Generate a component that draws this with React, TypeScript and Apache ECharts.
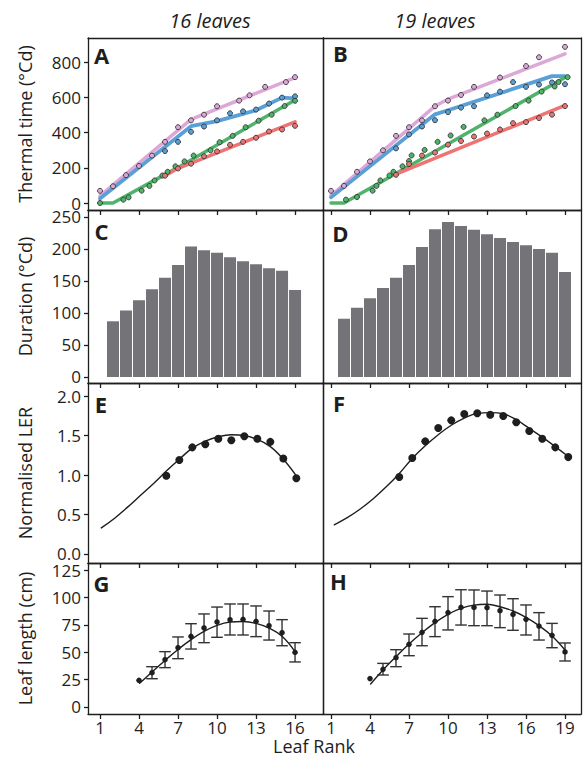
import React, { useEffect, useRef } from "react";
import * as echarts from "echarts";

// ---------------- Data ----------------
// Panel A: thermal time, 16 leaves (lines = fitted, points = observed)
const aPinkLineX = [1, 8, 16];
const aPinkLineY = [40, 474, 712];
const aBlueLineX = [1, 8, 10, 13, 15, 16];
const aBlueLineY = [25, 436, 465, 526, 598, 594];
const aGreenLineX = [1, 2, 7, 16];
const aGreenLineY = [0, 0, 202, 585];
const aRedLineX = [6, 7, 16];
const aRedLineY = [155, 197, 461];
const aPinkX = [1, 2, 3, 4, 5, 6, 7, 8, 9, 10, 11.7, 12.5, 13.7, 15.3, 16];
const aPinkY = [69, 95, 158, 210, 269, 347, 430, 469, 501, 549, 581, 611, 659, 686, 714];
const aBlueX = [6, 7, 8, 9, 10, 11, 12, 13, 14, 15, 16];
const aBlueY = [295, 347, 404, 434, 469, 509, 520, 530, 564, 598, 605];
const aGreenX = [1, 2.8, 3.2, 4.2, 4.8, 5.2, 5.8, 6.2, 6.8, 7.5, 8.2, 9.5, 10.2, 11.2, 12.2, 13.2, 14.2, 15.2, 16];
const aGreenY = [0, 19, 32, 70, 97, 128, 156, 177, 208, 236, 269, 299, 345, 381, 430, 467, 501, 550, 580];
const aRedX = [6, 7, 8, 9, 10, 11, 12, 13, 14, 15, 16];
const aRedY = [155, 196, 223, 265, 293, 330, 347, 370, 406, 417, 438];

// Panel B: thermal time, 19 leaves
const bPinkLineX = [1, 9, 10, 19];
const bPinkLineY = [42, 550, 589, 846];
const bBlueLineX = [1, 9, 10, 18, 19];
const bBlueLineY = [32, 503, 526, 720, 720];
const bGreenLineX = [1, 2, 19];
const bGreenLineY = [0, 0, 712];
const bRedLineX = [6, 19];
const bRedLineY = [164, 554];
const bPinkX = [1, 2, 3, 4, 5, 6, 7, 8, 9, 10, 11, 12, 14, 16, 17, 19];
const bPinkY = [69, 97, 177, 236, 299, 381, 430, 469, 549, 581, 613, 659, 712, 777, 827, 886];
const bBlueX = [6, 7, 8, 9, 10, 11, 12, 13, 14, 15, 16, 17, 18, 19];
const bBlueY = [310, 389, 434, 470, 516, 541, 549, 611, 632, 686, 659, 672, 684, 674];
const bGreenX = [2.15, 3, 4.2, 4.5, 4.8, 5.5, 5.8, 6.5, 7, 7.2, 8.2, 9.2, 10.2, 11.2, 12.8, 13.8, 15.2, 16.2, 17.2, 18.2, 18.5, 19.2];
const bGreenY = [19, 34, 70, 97, 128, 156, 177, 208, 238, 270, 301, 347, 383, 432, 469, 501, 550, 581, 632, 661, 686, 714];
const bRedX = [6, 7, 8, 9, 10, 11, 12, 13, 14, 15, 16, 17, 18, 19];
const bRedY = [160, 221, 269, 286, 331, 352, 377, 394, 417, 453, 459, 482, 501, 550];

// Panels C, D: duration (°Cd)
const cRanks = [2, 3, 4, 5, 6, 7, 8, 9, 10, 11, 12, 13, 14, 15, 16];
const cDuration = [87, 104, 120, 137, 155, 175, 204, 198, 194, 187, 181, 176, 170, 166, 136];
const dRanks = [2, 3, 4, 5, 6, 7, 8, 9, 10, 11, 12, 13, 14, 15, 16, 17, 18, 19];
const dDuration = [91, 108, 123, 139, 155, 175, 203, 231, 242, 236, 230, 223, 217, 211, 206, 200, 194, 164];

// Panels E, F: normalised LER
const eRanks = [6, 7, 8, 9, 10, 11, 12, 13, 14, 15, 16];
const eLER = [0.99, 1.19, 1.35, 1.39, 1.46, 1.44, 1.49, 1.46, 1.42, 1.21, 0.96];
const eFitX = [1, 2, 3, 4, 5, 6, 7, 8, 9, 10, 11, 12, 13, 14, 15, 16];
const eFitY = [0.33, 0.45, 0.59, 0.74, 0.89, 1.05, 1.2, 1.34, 1.43, 1.485, 1.51, 1.5, 1.45, 1.36, 1.2, 0.99];
const fRanks = [6, 7, 8, 9, 10, 11, 12, 13, 14, 15, 16, 17, 18, 19];
const fLER = [0.975, 1.215, 1.426, 1.595, 1.692, 1.772, 1.781, 1.764, 1.747, 1.667, 1.557, 1.46, 1.35, 1.227];
const fFitX = [1, 2, 3, 4, 5, 6, 7, 8, 9, 10, 11, 12, 13, 14, 15, 16, 17, 18, 19];
const fFitY = [0.37, 0.46, 0.57, 0.7, 0.85, 1.02, 1.21, 1.37, 1.51, 1.63, 1.72, 1.78, 1.79, 1.775, 1.7, 1.59, 1.48, 1.36, 1.235];

// Panels G, H: leaf length (cm), mean with error bars
const gRanks = [4, 5, 6, 7, 8, 9, 10, 11, 12, 13, 14, 15, 16];
const gLength = [24.3, 31.3, 43.2, 54.1, 64.5, 72.1, 77.6, 79.7, 80, 78.2, 74.2, 67.8, 49.9];
const gErrRanks = [5, 6, 7, 8, 9, 10, 11, 12, 13, 14, 15, 16];
const gErrLow = [25.8, 35.9, 44.1, 52.9, 58.7, 63.6, 65.7, 65.7, 64.2, 61.1, 55.9, 41.1];
const gErrHigh = [36.8, 50.5, 63.9, 76, 84.9, 91.2, 94, 94, 92.2, 87.6, 79.7, 58.7];
const gFitX = [4.05, 5, 6, 7, 8, 9, 10, 11, 12, 13, 14, 15, 16];
const gFitY = [21.6, 32, 42.5, 52.5, 61.5, 69, 74.5, 77.5, 78, 76.3, 72, 64.5, 50.5];
const hRanks = [4, 5, 6, 7, 8, 9, 10, 11, 12, 13, 14, 15, 16, 17, 18, 19];
const hLength = [25.9, 34.4, 45, 57.2, 68.1, 78.2, 86.1, 90.9, 90.9, 90.6, 87.9, 84.5, 80, 73.9, 65.4, 50.2];
const hErrRanks = [5, 6, 7, 8, 9, 10, 11, 12, 13, 14, 15, 16, 17, 18, 19];
const hErrLow = [29.2, 36.8, 46.8, 55.9, 64.2, 70.3, 74.8, 74.2, 74.2, 72.4, 70, 65.7, 61.1, 54.1, 42];
const hErrHigh = [39.8, 52.3, 66.6, 80.9, 91.5, 100.7, 107, 106.8, 105.8, 102.2, 98.8, 93.1, 86.1, 76.3, 58.4];
const hFitX = [4.05, 5, 6, 7, 8, 9, 10, 11, 12, 13, 14, 15, 16, 17, 18, 19];
const hFitY = [21, 33.8, 45.9, 57.5, 67.8, 77, 84.6, 90, 93, 93.7, 91.5, 87.6, 81.8, 74.2, 64.8, 52];

// Tick labels
const xTicks16 = [1, 4, 7, 10, 13, 16];
const xTicks19 = [1, 4, 7, 10, 13, 16, 19];
const yTicksTT = [0, 200, 400, 600, 800];
const yTicksDur = [0, 50, 100, 150, 200, 250];
const yTicksLER = [0, 0.5, 1, 1.5, 2];
const yTicksLen = [0, 25, 50, 75, 100, 125];
const columnTitles = ["16 leaves", "19 leaves"];
const rowTitles = ["Thermal time (°Cd)", "Duration (°Cd)", "Normalised LER", "Leaf length (cm)"];
const panelLetters = ["A", "B", "C", "D", "E", "F", "G", "H"];
const xAxisTitle = "Leaf Rank";

// ---------------- Layout & style ----------------
const FONT = "'Open Sans', 'Noto Sans', sans-serif";
const INK = "#1e1e1e";
const PINK = "#dca8d8";
const BLUE = "#5a9fd5";
const GREEN = "#50b36c";
const RED = "#ee7474";
const BAR = "#737378";

const COLS = [
  { l: 88, r: 323, min: 0.077, max: 18.15, ticks: xTicks16, cx: 210 },
  { l: 323, r: 581, min: 0.385, max: 20.23, ticks: xTicks19, cx: 435 },
];
const ROWS = [
  { t: 38, b: 210, min: -39.7, max: 936.2, ticks: yTicksTT, fmt: (v: number) => String(v) },
  { t: 210, b: 383, min: -9.4, max: 260.9, ticks: yTicksDur, fmt: (v: number) => String(v) },
  { t: 383, b: 563, min: -0.114, max: 2.165, ticks: yTicksLER, fmt: (v: number) => v.toFixed(1) },
  { t: 563, b: 714, min: -6.39, max: 131.4, ticks: yTicksLen, fmt: (v: number) => String(v) },
];
const PANELS = [
  { col: 0, row: 0, lx: 101.5, ly: 55, shift: 0 },
  { col: 1, row: 0, lx: 340.5, ly: 53, shift: 0 },
  { col: 0, row: 1, lx: 101.5, ly: 231, shift: 0 },
  { col: 1, row: 1, lx: 340.5, ly: 233, shift: 0 },
  { col: 0, row: 2, lx: 101, ly: 404, shift: 0.1 },
  { col: 1, row: 2, lx: 339, ly: 403, shift: 0.25 },
  { col: 0, row: 3, lx: 101.5, ly: 583, shift: 0 },
  { col: 1, row: 3, lx: 338.5, ly: 581, shift: 0 },
];

const zip = (xs: number[], ys: number[]) => xs.map((x, k) => [x, ys[k]]);

function buildOption() {
  const grid: any[] = [];
  const xAxis: any[] = [];
  const yAxis: any[] = [];
  const series: any[] = [];
  const graphic: any[] = [];
  const axisLineStyle = { color: INK, width: 1.3 };
  const labelStyle = { fontFamily: FONT, fontSize: 17, color: INK, lineHeight: 13 };

  PANELS.forEach((p, i) => {
    const c = COLS[p.col];
    const r = ROWS[p.row];
    grid.push({ left: c.l, top: r.t, width: c.r - c.l, height: r.b - r.t, containLabel: false });
    const bottomRow = p.row === 3;
    xAxis.push({ type: "value", gridIndex: i, min: c.min - p.shift, max: c.max - p.shift, show: false });
    xAxis.push({
      type: "value", gridIndex: i, position: "bottom", min: c.min, max: c.max,
      axisLine: { show: true, onZero: false, lineStyle: axisLineStyle },
      axisTick: { show: bottomRow, length: 5, lineStyle: axisLineStyle, customValues: c.ticks },
      axisLabel: { show: bottomRow, customValues: c.ticks, margin: 7, ...labelStyle },
      splitLine: { show: false },
    });
    xAxis.push({
      type: "value", gridIndex: i, position: "top", min: c.min, max: c.max,
      axisLine: { show: true, onZero: false, lineStyle: axisLineStyle },
      axisTick: { show: p.row > 0, inside: true, length: 5, lineStyle: axisLineStyle, customValues: c.ticks },
      axisLabel: { show: false },
      splitLine: { show: false },
    });
    yAxis.push({
      type: "value", gridIndex: i, position: "left", min: r.min, max: r.max,
      axisLine: { show: true, onZero: false, lineStyle: axisLineStyle },
      axisTick: { show: p.col === 0, length: 4, lineStyle: axisLineStyle, customValues: r.ticks },
      axisLabel: { show: p.col === 0, customValues: r.ticks, formatter: r.fmt, margin: 7, ...labelStyle },
      splitLine: { show: false },
    });
    yAxis.push({
      type: "value", gridIndex: i, position: "right", min: r.min, max: r.max,
      axisLine: { show: true, onZero: false, lineStyle: axisLineStyle },
      axisTick: { show: false }, axisLabel: { show: false }, splitLine: { show: false },
    });
    graphic.push({
      type: "text", x: p.lx, y: p.ly, z: 100,
      style: { text: panelLetters[i], font: `bold 22px ${FONT}`, fill: INK, align: "center", verticalAlign: "middle" },
    });
  });

  const ax = (i: number) => ({ xAxisIndex: i * 3, yAxisIndex: i * 2 });
  const line = (i: number, data: number[][], color: string, width: number, smooth: any = false) => ({
    type: "line", ...ax(i), data, symbol: "none", smooth, silent: true, z: 2,
    lineStyle: { color, width, cap: "round", join: "round" },
  });
  const dots = (i: number, data: number[][], color: string, size: number, border: boolean) => ({
    type: "scatter", ...ax(i), data, symbol: "circle", symbolSize: size, silent: true, z: 3,
    itemStyle: border ? { color, borderColor: "#333", borderWidth: 0.9, opacity: 1 } : { color, opacity: 1 },
  });
  const bars = (i: number, xs: number[], ys: number[]) => ({
    type: "bar", ...ax(i), data: zip(xs, ys), barWidth: 12, silent: true,
    itemStyle: { color: BAR },
  });
  const errs = (i: number, xs: number[], lo: number[], hi: number[]) => ({
    type: "custom", ...ax(i), silent: true, z: 2,
    data: xs.map((x, k) => [x, lo[k], hi[k]]),
    encode: { x: 0, y: [1, 2] },
    renderItem: (_p: any, api: any) => {
      const x = api.value(0);
      const a = api.coord([x, api.value(1)]);
      const b = api.coord([x, api.value(2)]);
      const w = 5.8;
      const style = { stroke: "#333", lineWidth: 1.4 };
      return {
        type: "group",
        children: [
          { type: "line", shape: { x1: a[0], y1: a[1], x2: b[0], y2: b[1] }, style },
          { type: "line", shape: { x1: a[0] - w, y1: a[1], x2: a[0] + w, y2: a[1] }, style },
          { type: "line", shape: { x1: b[0] - w, y1: b[1], x2: b[0] + w, y2: b[1] }, style },
        ],
      };
    },
  });

  // A
  series.push(line(0, zip(aPinkLineX, aPinkLineY), PINK, 3.5));
  series.push(line(0, zip(aBlueLineX, aBlueLineY), BLUE, 3.8));
  series.push(line(0, zip(aGreenLineX, aGreenLineY), GREEN, 3.5));
  series.push(line(0, zip(aRedLineX, aRedLineY), RED, 3.5));
  series.push(dots(0, zip(aPinkX, aPinkY), PINK, 5, true));
  series.push(dots(0, zip(aBlueX, aBlueY), BLUE, 5, true));
  series.push(dots(0, zip(aGreenX, aGreenY), GREEN, 5, true));
  series.push(dots(0, zip(aRedX, aRedY), RED, 5, true));
  // B
  series.push(line(1, zip(bPinkLineX, bPinkLineY), PINK, 3.5));
  series.push(line(1, zip(bBlueLineX, bBlueLineY), BLUE, 3.8));
  series.push(line(1, zip(bGreenLineX, bGreenLineY), GREEN, 3.5));
  series.push(line(1, zip(bRedLineX, bRedLineY), RED, 3.5));
  series.push(dots(1, zip(bPinkX, bPinkY), PINK, 5, true));
  series.push(dots(1, zip(bBlueX, bBlueY), BLUE, 5, true));
  series.push(dots(1, zip(bGreenX, bGreenY), GREEN, 5, true));
  series.push(dots(1, zip(bRedX, bRedY), RED, 5, true));
  // C, D
  series.push(bars(2, cRanks, cDuration));
  series.push(bars(3, dRanks, dDuration));
  // E, F
  series.push(line(4, zip(eFitX, eFitY), INK, 1.4, 0.4));
  series.push(dots(4, zip(eRanks, eLER), INK, 8, false));
  series.push(line(5, zip(fFitX, fFitY), INK, 1.4, 0.4));
  series.push(dots(5, zip(fRanks, fLER), INK, 8, false));
  // G, H
  series.push(line(6, zip(gFitX, gFitY), INK, 1.4, 0.4));
  series.push(errs(6, gErrRanks, gErrLow, gErrHigh));
  series.push(dots(6, zip(gRanks, gLength), INK, 5.5, false));
  series.push(line(7, zip(hFitX, hFitY), INK, 1.4, 0.4));
  series.push(errs(7, hErrRanks, hErrLow, hErrHigh));
  series.push(dots(7, zip(hRanks, hLength), INK, 5.5, false));

  // Titles
  COLS.forEach((c, k) => {
    graphic.push({
      type: "text", x: c.cx, y: 20,
      style: { text: columnTitles[k], font: `italic 20px ${FONT}`, fill: INK, align: "center", verticalAlign: "middle" },
    });
  });
  ROWS.forEach((r, k) => {
    graphic.push({
      type: "text", x: 25, y: (r.t + r.b) / 2, rotation: Math.PI / 2,
      style: { text: rowTitles[k], font: `18px ${FONT}`, fill: INK, align: "center", verticalAlign: "middle" },
    });
  });
  graphic.push({
    type: "text", x: 314, y: 746,
    style: { text: xAxisTitle, font: `18px ${FONT}`, fill: INK, align: "center", verticalAlign: "middle" },
  });

  return { animation: false, backgroundColor: "#ffffff", grid, xAxis, yAxis, series, graphic };
}

export default function App() {
  const ref = useRef<HTMLDivElement>(null);
  useEffect(() => {
    document.body.style.margin = "0";
    if (!ref.current) return;
    const chart = echarts.init(ref.current, undefined, { renderer: "svg" });
    chart.setOption(buildOption() as any);
    return () => chart.dispose();
  }, []);
  return <div ref={ref} style={{ width: 584, height: 758 }} />;
}
